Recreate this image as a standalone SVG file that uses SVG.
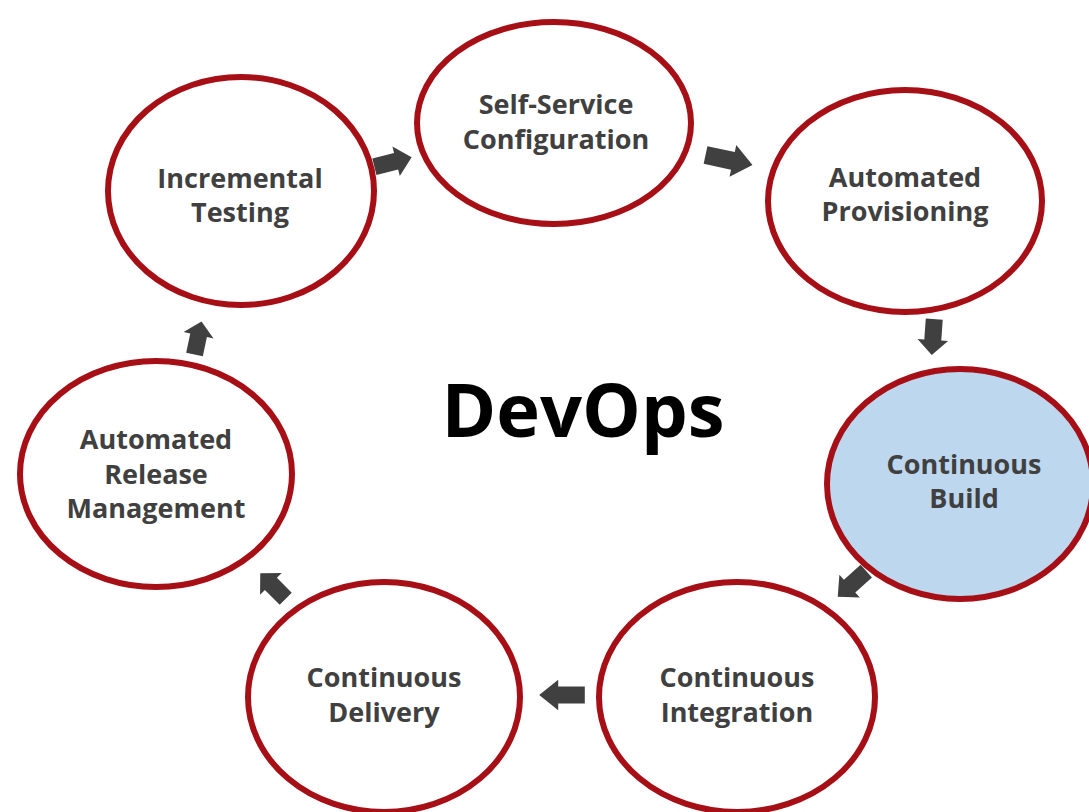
<svg xmlns="http://www.w3.org/2000/svg" width="1089" height="812" viewBox="0 0 1089 812">
  <style>
    .node { fill: #ffffff; stroke: #A50F15; stroke-width: 6; }
    .node.active { fill: #BDD7EE; }
    .label { font-family: "Open Sans", "Liberation Sans", sans-serif; font-weight: bold; font-size: 27px; fill: #404040; text-anchor: middle; }
    .title { font-family: "Open Sans", "Liberation Sans", sans-serif; font-weight: bold; font-size: 74px; fill: #000000; text-anchor: middle; }
    .arrow { fill: #404040; }
  </style>
  <defs>
    <!-- block arrow pointing along +x, centred on the origin -->
    <path id="blk" d="M-24,-10 L4,-10 L4,-18 L24,0 L4,18 L4,10 L-24,10 Z"/>
  </defs>

  <rect width="1089" height="812" fill="#ffffff"/>

  <g id="connectors" class="arrow">
    <use href="#blk" transform="translate(393,162) rotate(-14) scale(0.8,0.85)"/>
    <use href="#blk" transform="translate(729,160) rotate(12) scale(1,0.9)"/>
    <use href="#blk" transform="translate(933,337) rotate(94) scale(0.75,0.85)"/>
    <use href="#blk" transform="translate(852,584) rotate(138) scale(0.8,0.85)"/>
    <use href="#blk" transform="translate(562,695) rotate(180) scale(0.95,0.85)"/>
    <use href="#blk" transform="translate(273,586) rotate(-135) scale(0.75,0.85)"/>
    <use href="#blk" transform="translate(198,338) rotate(-78) scale(0.7,0.85)"/>
  </g>

  <g id="self-service-configuration">
    <ellipse class="node" cx="554" cy="123" rx="137" ry="101"/>
    <text class="label" x="556" y="114">Self-Service</text>
    <text class="label" x="556" y="149">Configuration</text>
  </g>

  <g id="automated-provisioning">
    <ellipse class="node" cx="905" cy="201" rx="137" ry="111"/>
    <text class="label" x="905" y="187">Automated</text>
    <text class="label" x="905" y="221">Provisioning</text>
  </g>

  <g id="continuous-build">
    <ellipse class="node active" cx="960" cy="484" rx="133" ry="115"/>
    <text class="label" x="964" y="474">Continuous</text>
    <text class="label" x="964" y="508">Build</text>
  </g>

  <g id="continuous-integration">
    <ellipse class="node" cx="737" cy="697" rx="138" ry="115"/>
    <text class="label" x="737" y="687">Continuous</text>
    <text class="label" x="737" y="722">Integration</text>
  </g>

  <g id="continuous-delivery">
    <ellipse class="node" cx="384" cy="697" rx="136" ry="115"/>
    <text class="label" x="384" y="687">Continuous</text>
    <text class="label" x="384" y="722">Delivery</text>
  </g>

  <g id="automated-release-management">
    <ellipse class="node" cx="156" cy="474" rx="136" ry="113"/>
    <text class="label" x="156" y="449">Automated</text>
    <text class="label" x="156" y="484">Release</text>
    <text class="label" x="156" y="518">Management</text>
  </g>

  <g id="incremental-testing">
    <ellipse class="node" cx="241" cy="191" rx="133" ry="114"/>
    <text class="label" x="240" y="188">Incremental</text>
    <text class="label" x="240" y="222">Testing</text>
  </g>

  <text id="title" class="title" x="583" y="437">DevOps</text>
</svg>
